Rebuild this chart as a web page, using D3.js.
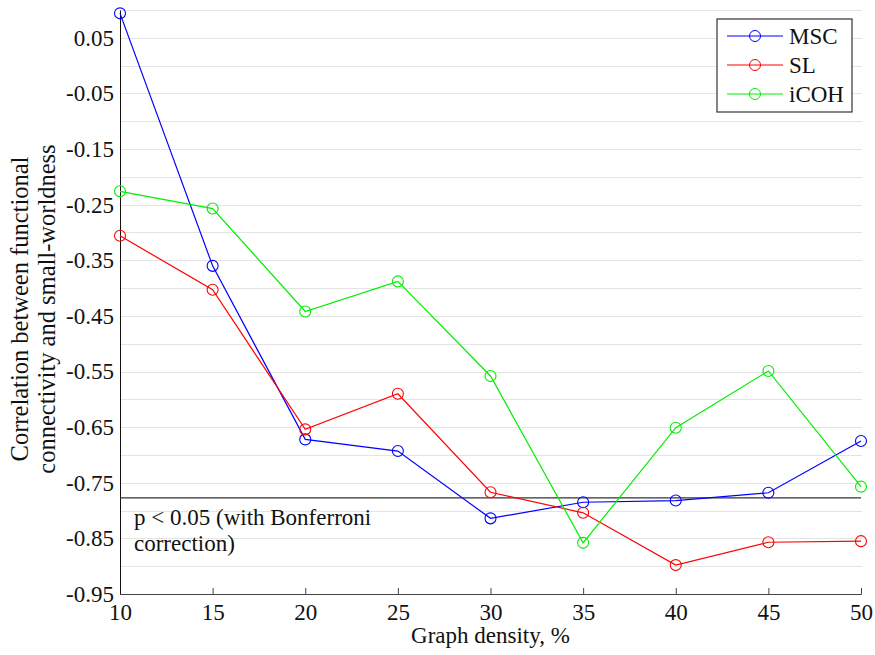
<!DOCTYPE html>
<html>
<head>
<meta charset="utf-8">
<script src="https://cdn.jsdelivr.net/npm/d3@7"></script>
<style>
  body { margin: 0; background: #fff; }
  svg text { font-family: "Liberation Serif", "Times New Roman", serif; fill: #111; }
</style>
</head>
<body>
<svg id="chart" width="875" height="655"></svg>
<script>
// graph density, %
const densities = [10, 15, 20, 25, 30, 35, 40, 45, 50];

// correlation values
const msc  = [0.094, -0.360, -0.672, -0.693, -0.814, -0.785, -0.782, -0.768, -0.675];
const sl   = [-0.306, -0.403, -0.654, -0.590, -0.767, -0.804, -0.898, -0.857, -0.855];
const icoh = [-0.226, -0.257, -0.442, -0.388, -0.558, -0.858, -0.651, -0.549, -0.757];

const seriesNames = ["MSC", "SL", "iCOH"];
const seriesColors = ["#0000ff", "#ff0000", "#00ee00"];
const threshold = -0.777;

const yTicks = [-0.95, -0.85, -0.75, -0.65, -0.55, -0.45, -0.35, -0.25, -0.15, -0.05, 0.05];
const xTicks = [10, 15, 20, 25, 30, 35, 40, 45, 50];

const margin = {left: 120, right: 14, top: 10, bottom: 61};
const width = 875, height = 655;
const fontSize = 23;

let svg = d3.select("#chart");

let x = d3.scaleLinear().domain([10, 50]).range([margin.left, width - margin.right]);
let y = d3.scaleLinear().domain([-0.95, 0.10]).range([height - margin.bottom, margin.top]);

// light grid every 0.05
let grid = d3.range(-0.90, 0.101, 0.05);
svg.append("g")
    .selectAll("line")
    .data(grid)
    .enter().append("line")
    .attr("x1", x(10)).attr("x2", x(50) + 1)
    .attr("y1", d => Math.round(y(d)) + 0.5)
    .attr("y2", d => Math.round(y(d)) + 0.5)
    .attr("stroke", "#e4e4e4")
    .attr("stroke-width", 1.2);

// x axis
let xAxis = d3.axisBottom(x).tickValues(xTicks).tickSize(-6).tickPadding(10).tickFormat(d3.format("d"));
let gx = svg.append("g")
    .attr("transform", `translate(0,${y(-0.95)})`)
    .call(xAxis);
gx.select(".domain").attr("stroke", "#444");
gx.selectAll(".tick line").attr("stroke", "#444");
gx.selectAll("text").attr("font-size", fontSize).attr("fill", "#111");

// y axis
let yAxis = d3.axisLeft(y).tickValues(yTicks).tickSize(0).tickPadding(6).tickFormat(d3.format(".2f"));
let gy = svg.append("g")
    .attr("transform", `translate(${x(10)},0)`)
    .call(yAxis);
gy.select(".domain").attr("stroke", "#111");
gy.selectAll("text").attr("font-size", fontSize).attr("fill", "#111")
    .text(d => d3.format(".2f")(d).replace("−", "-"));

// significance threshold
svg.append("line")
    .attr("x1", x(10)).attr("x2", x(50))
    .attr("y1", y(threshold)).attr("y2", y(threshold))
    .attr("stroke", "#333")
    .attr("stroke-width", 1.3);

svg.append("text")
    .attr("x", 134).attr("y", 525)
    .attr("font-size", fontSize)
    .text("p < 0.05 (with Bonferroni");
svg.append("text")
    .attr("x", 134).attr("y", 551)
    .attr("font-size", fontSize)
    .text("correction)");

// series
let allSeries = [msc, sl, icoh];
let line = d3.line()
    .x((d, i) => x(densities[i]))
    .y(d => y(d));

allSeries.forEach((vals, k) => {
    let g = svg.append("g");
    g.append("path")
        .datum(vals)
        .attr("d", line)
        .attr("fill", "none")
        .attr("stroke", seriesColors[k])
        .attr("stroke-width", 1.2);
    g.selectAll("circle")
        .data(vals)
        .enter().append("circle")
        .attr("cx", (d, i) => x(densities[i]))
        .attr("cy", d => y(d))
        .attr("r", 5.5)
        .attr("fill", "none")
        .attr("stroke", seriesColors[k])
        .attr("stroke-width", 1.1);
});

// axis titles
svg.append("text")
    .attr("x", x(30)).attr("y", 643)
    .attr("text-anchor", "middle")
    .attr("font-size", fontSize)
    .text("Graph density, %");

let yTitle = svg.append("text")
    .attr("transform", "translate(0,309) rotate(-90)")
    .attr("text-anchor", "middle")
    .attr("font-size", 24.5);
yTitle.append("tspan").attr("x", 0).attr("y", 28).text("Correlation between functional");
yTitle.append("tspan").attr("x", 0).attr("y", 55).text("connectivity and small-worldness");

// legend
let legend = svg.append("g").attr("transform", "translate(717,19)");
legend.append("rect")
    .attr("width", 135).attr("height", 93)
    .attr("fill", "#fff")
    .attr("stroke", "#333")
    .attr("stroke-width", 1.2);
seriesNames.forEach((name, k) => {
    let row = legend.append("g").attr("transform", `translate(0,${17 + k * 29})`);
    row.append("line")
        .attr("x1", 10).attr("x2", 66)
        .attr("stroke", seriesColors[k]).attr("stroke-width", 1.2);
    row.append("circle")
        .attr("cx", 38).attr("r", 5.5)
        .attr("fill", "none").attr("stroke", seriesColors[k]);
    row.append("text")
        .attr("x", 72).attr("y", 8)
        .attr("font-size", fontSize)
        .text(name);
});
</script>
</body>
</html>
